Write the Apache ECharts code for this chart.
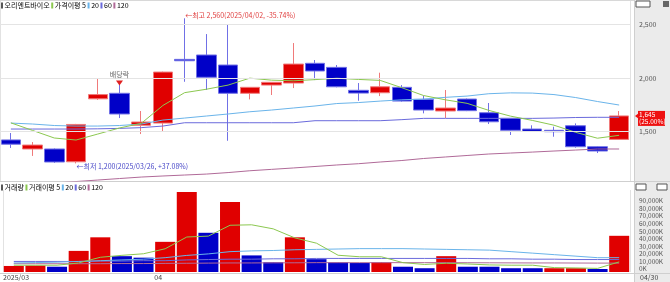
<!DOCTYPE html>
<html><head><meta charset="utf-8">
<script src="https://cdn.jsdelivr.net/npm/echarts@6/dist/echarts.min.js"></script>
<style>html,body{margin:0;padding:0;background:#fff}#c{width:670px;height:282px}</style>
</head><body><div id="c"></div>
<script>
const dates = ['2025/03/21','2025/03/24','2025/03/25','2025/03/26','2025/03/27','2025/03/28','2025/03/31',
  '2025/04/01','2025/04/02','2025/04/03','2025/04/04','2025/04/07','2025/04/08','2025/04/09','2025/04/10','2025/04/11',
  '2025/04/14','2025/04/15','2025/04/16','2025/04/17','2025/04/18','2025/04/21','2025/04/22','2025/04/23','2025/04/24',
  '2025/04/25','2025/04/28','2025/04/29','2025/04/30'];
const opens  = [1420,1335,1335,1215,1805,1857,1557,1578,2175,2216,2122,1857,1934,1953,2138,2100,1885,1862,1913,1800,1691,1803,1675,1622,1522,1510,1553,1356,1425];
const closes = [1380,1372,1213,1565,1845,1663,1588,2056,2162,2007,1857,1913,1960,2131,2066,1918,1859,1918,1784,1700,1719,1694,1590,1510,1500,1497,1356,1316,1645];
const lows   = [1345,1270,1205,1200,1795,1625,1475,1503,1965,1888,1412,1800,1841,1906,1981,1913,1787,1831,1778,1669,1625,1690,1569,1466,1495,1450,1347,1297,1420];
const highs  = [1485,1400,1340,1570,2000,1953,1691,2060,2560,2412,2497,1915,1962,2328,2169,2122,1953,2050,1934,1834,1888,1808,1766,1625,1557,1544,1575,1360,1691];
const ma5   = [1580,1509,1438,1419,1475,1532,1575,1743,1863,1895,1934,1999,1980,1974,1985,1998,1987,1978,1909,1836,1796,1763,1697,1643,1603,1558,1491,1436,1463];
const ma20  = [1578,1569,1555,1550,1550,1555,1569,1606,1625,1644,1663,1684,1700,1719,1738,1761,1770,1784,1796,1803,1819,1831,1853,1861,1859,1845,1817,1780,1747];
const ma60  = [1522,1522,1522,1522,1524,1528,1535,1550,1581,1581,1581,1581,1581,1581,1600,1600,1600,1600,1610,1622,1622,1622,1622,1622,1622,1625,1630,1632,1632];
const ma120 = [988,1002,1016,1030,1044,1058,1072,1082,1091,1100,1114,1131,1144,1157,1171,1185,1197,1213,1227,1246,1260,1274,1288,1297,1306,1316,1325,1335,1335];
const volumes = [8000,8500,7000,28000,46000,21000,19000,40000,106000,52000,93000,22000,13000,46000,17000,13000,12000,13000,7000,5000,21000,7000,7000,5000,5000,5000,5000,4000,48000];
const volUp   = [1,1,0,1,1,0,0,1,1,0,1,0,0,1,0,0,0,1,0,0,1,0,0,0,0,1,1,0,1];
const vma5   = [9000,9000,9000,12000,19500,22100,24200,30800,46400,47600,62000,62600,57200,45200,38200,22200,20200,20200,12400,10000,11600,10600,9400,9000,9000,5800,5400,4800,13400];
const vma20  = [12000,12500,13000,14000,15000,16000,17000,19000,22000,24000,27000,28000,28500,29500,30000,30500,31000,31000,31000,30500,30000,29500,29000,27000,25000,23000,21000,19000,19000];
const vma60  = [14000,14000,14000,14000,14500,14500,15000,15000,16000,16500,17000,17000,17500,17500,18000,18000,18000,18000,18000,18000,18000,18000,17500,17500,17000,17000,16500,16500,16500];
const vma120 = [11000,11000,11000,11000,11000,11200,11200,11400,11600,11800,12000,12000,12200,12200,12400,12400,12400,12400,12400,12400,12400,12300,12200,12100,12000,12000,11900,11800,11800];
const priceTicks = [1500, 2000, 2500];
const volTicks = [0,10000,20000,30000,40000,50000,60000,70000,80000,90000];
const monthStartIdx = [0, 7];
const monthLabels = ['2025/03', '04'];
const lastLabel = '04/30';
const stockName = '오리엔트바이오';
const hiInfo = {idx: 8, text: '←최고 2,560(2025/04/02, -35.74%)'};
const loInfo = {idx: 3, text: '←최저 1,200(2025/03/26, +37.08%)'};
const exDivIdx = 5;
const lastChange = '(25.00%)';

const UP='#e00000', DN='#0000c8', UPB='#f07a7a', DNB='#7070e6';
const C5='#8cc850', C20='#6ab4ea', C60='#6a6adc', C120='#b06a98';
const FONT='"Noto Sans CJK KR", sans-serif';
const fmt = v => v.toLocaleString('en-US');

const chart = echarts.init(document.getElementById('c'), null, {renderer:'canvas'});
const n = dates.length;
const candleData = dates.map((d,i)=>[opens[i], closes[i], lows[i], highs[i]]);
const lineS = (name, data, color, xi, yi) => ({type:'line', name, data, xAxisIndex:xi, yAxisIndex:yi, showSymbol:false, symbol:'none', silent:true, z:4,
  lineStyle:{color, width:1}, clip:true});
const T = 'rgba(0,0,0,0)';
const richCommon = {
  m0:{width:2,height:6,backgroundColor:'#555'}, m1:{width:2,height:6,backgroundColor:C5},
  m2:{width:2,height:6,backgroundColor:C20}, m3:{width:2,height:6,backgroundColor:C60}, m4:{width:2,height:6,backgroundColor:C120},
  t:{fontSize:7,fontFamily:FONT,color:'#333'}, g:{fontSize:7,fontFamily:FONT,color:'#7cb840'},
  b:{fontSize:7,fontFamily:FONT,color:C20}, p:{fontSize:7,fontFamily:FONT,color:C60}, q:{fontSize:7,fontFamily:FONT,color:C120}
};

const option = {
  animation:false,
  backgroundColor:'#fff',
  grid:[{left:0, top:1, width:630, height:180}, {left:0, top:190, width:630, height:82}],
  xAxis:[
    {type:'category', gridIndex:0, data:dates, boundaryGap:true, axisLine:{show:false}, axisTick:{show:false}, axisLabel:{show:false},
     splitLine:{show:true, interval:(i)=>monthStartIdx.indexOf(i)>0, lineStyle:{color:'#e2e2e2'}}},
    {type:'category', gridIndex:1, data:dates, boundaryGap:true, axisLine:{show:false}, axisTick:{show:false}, axisLabel:{show:false},
     splitLine:{show:true, interval:(i)=>monthStartIdx.indexOf(i)>0, lineStyle:{color:'#e2e2e2'}}},
    {type:'value', gridIndex:1, min:0, max:n, position:'bottom', axisLine:{show:false}, axisTick:{show:false}, splitLine:{show:false},
     axisLabel:{show:true, customValues:monthStartIdx, align:'left', margin:2, fontSize:7, fontFamily:FONT, color:'#444',
       formatter:(v)=>monthLabels[monthStartIdx.indexOf(Math.round(v))] || ''}}
  ],
  yAxis:[
    {type:'value', gridIndex:0, position:'right', min:1035, max:2722, axisLine:{show:false}, axisTick:{show:false}, splitLine:{show:false},
     axisLabel:{customValues:priceTicks, margin:9, fontSize:7, fontFamily:FONT, color:'#555', formatter:(v)=>fmt(v)}},
    {type:'value', gridIndex:1, position:'right', min:0, max:108750, axisLine:{show:false}, axisTick:{show:false}, splitLine:{show:false},
     axisLabel:{customValues:volTicks, margin:9, fontSize:6.5, fontFamily:FONT, color:'#555', verticalAlign:'bottom', formatter:(v)=> v===0 ? '0K' : fmt(v)+'K'}}
  ],
  series:[
    {type:'line', data:[], xAxisIndex:0, yAxisIndex:0, silent:true, z:1,
     markLine:{silent:true, symbol:['none','none'], label:{show:false}, lineStyle:{color:'#e4e4e4', type:'solid', width:1},
       data: priceTicks.map(v=>({yAxis:v}))}},
    lineS('MA120', ma120, C120, 0, 0),
    lineS('MA60', ma60, C60, 0, 0),
    lineS('MA20', ma20, C20, 0, 0),
    lineS('MA5', ma5, C5, 0, 0),
    {type:'candlestick', name:stockName, data:candleData, xAxisIndex:0, yAxisIndex:0, barWidth:20, z:3,
     itemStyle:{color:UP, color0:DN, borderColor:UPB, borderColor0:DNB, borderWidth:1},
     markPoint:{silent:true, z:10, data:[
       {coord:[dates[hiInfo.idx], highs[hiInfo.idx]], symbol:'circle', symbolSize:1, itemStyle:{color:T},
        label:{show:true, formatter:hiInfo.text, position:'right', distance:0, offset:[0,-3], fontSize:7, fontFamily:FONT, color:'#e04040'}},
       {coord:[dates[loInfo.idx], lows[loInfo.idx]], symbol:'circle', symbolSize:1, itemStyle:{color:T},
        label:{show:true, formatter:loInfo.text, position:'right', distance:0, offset:[0,3], fontSize:7, fontFamily:FONT, color:'#4848c8'}},
       {coord:[dates[exDivIdx], highs[exDivIdx]], symbol:'triangle', symbolSize:[7,5], symbolRotate:180, itemStyle:{color:'#e02020'},
        label:{show:true, formatter:'배당락', position:'top', distance:3, fontSize:7, fontFamily:FONT, color:'#666'}}
     ]}
    },
    {type:'bar', data:volumes.map((v,i)=>({value:v, itemStyle:{color: volUp[i]?UP:DN}})), xAxisIndex:1, yAxisIndex:1, barWidth:20, z:2},
    lineS('VMA120', vma120, C120, 1, 1),
    lineS('VMA60', vma60, C60, 1, 1),
    lineS('VMA20', vma20, C20, 1, 1),
    lineS('VMA5', vma5, C5, 1, 1)
  ],
  graphic:[
    {type:'rect', shape:{x:634,y:0,width:36,height:282}, style:{fill:'#ebebeb'}, z:-10, silent:true},
    {type:'line', shape:{x1:634.5,y1:0,x2:634.5,y2:282}, style:{stroke:'#cfcfcf',lineWidth:1}, z:-9, silent:true},
    {type:'line', shape:{x1:0,y1:0.5,x2:634,y2:0.5}, style:{stroke:'#d8d8d8',lineWidth:1}, silent:true},
    {type:'line', shape:{x1:0,y1:181.5,x2:670,y2:181.5}, style:{stroke:'#cfcfcf',lineWidth:1}, silent:true},
    {type:'line', shape:{x1:0,y1:273.5,x2:670,y2:273.5}, style:{stroke:'#cfcfcf',lineWidth:1}, silent:true},
    {type:'text', x:640, y:274, style:{text:lastLabel, font:'7px '+FONT, fill:'#444'}, silent:true},
    {type:'rect', shape:{x:636,y:1,width:14,height:6}, style:{fill:'#fff', stroke:'#555', lineWidth:1}, silent:true},
    {type:'rect', shape:{x:663,y:1,width:6,height:6}, style:{fill:'#666'}, silent:true},
    {type:'rect', shape:{x:636,y:184,width:10,height:6}, style:{fill:'#fff', stroke:'#555', lineWidth:1}, silent:true},
    {type:'rect', shape:{x:657,y:184,width:10,height:6}, style:{fill:'#fff', stroke:'#555', lineWidth:1}, silent:true},
    {type:'text', x:1, y:2, z:20, silent:true, style:{
      text:'{m0|}{t| '+stockName+' }{m1|}{g| 가격이평 5 }{m2|}{b| 20 }{m3|}{p| 60 }{m4|}{q| 120}', rich:richCommon}},
    {type:'text', x:1, y:184, z:20, silent:true, style:{
      text:'{m0|}{t| 거래량 }{m1|}{g| 거래이평 5 }{m2|}{b| 20 }{m3|}{p| 60 }{m4|}{q| 120}', rich:richCommon}}
  ]
};
chart.setOption(option);
// last price tag in the axis column, positioned through the price axis
const py = chart.convertToPixel({yAxisIndex:0}, closes[n-1]);
chart.setOption({graphic: option.graphic.concat([
  {type:'polygon', shape:{points:[[635,py],[639,py-3],[639,py+3]]}, style:{fill:'#ee1111'}, z:30, silent:true},
  {type:'rect', shape:{x:638, y:py-5, width:27, height:15}, style:{fill:'#ee1111'}, z:30, silent:true},
  {type:'text', x:639, y:py-5, z:31, silent:true, style:{text:fmt(closes[n-1])+'\n'+lastChange, font:'6.5px '+FONT, fill:'#fff', lineHeight:7}}
])});
</script></body></html>
